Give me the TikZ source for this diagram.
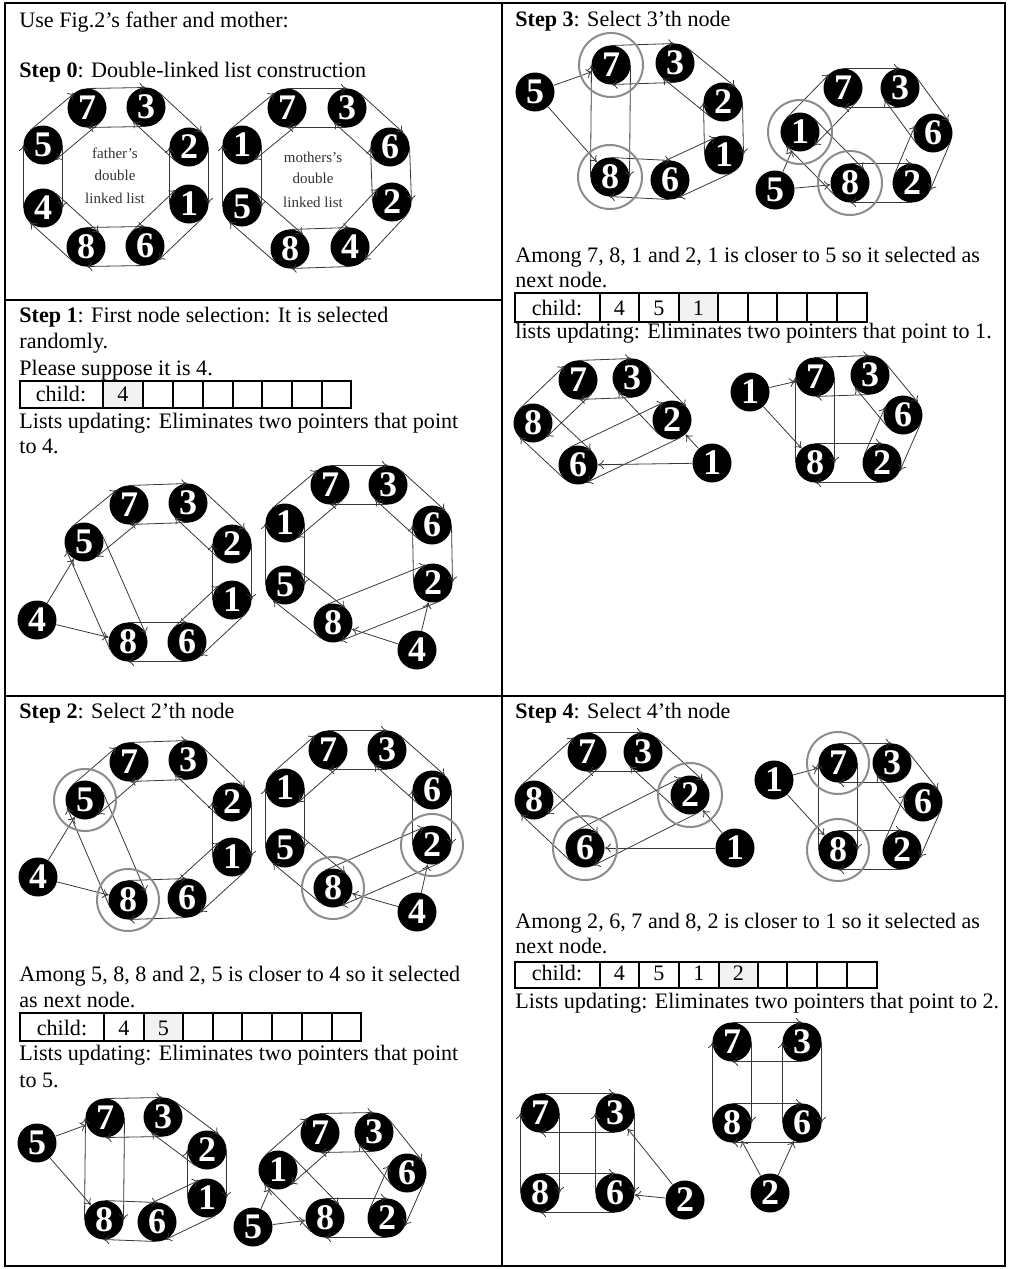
\documentclass[tikz,border=0pt]{standalone}
\usepackage{fontspec}
\setmainfont{Liberation Serif}
\usetikzlibrary{arrows.meta, calc}
\definecolor{cellgray}{RGB}{242,242,242}
\definecolor{ringgray}{RGB}{140,140,140}
\definecolor{linkgray}{RGB}{55,55,55}
\newcommand{\lnkoff}{9.75pt}
% two pointers between neighbours, each one keeps to its left
\newcommand{\dlink}[2]{%
  \draw[lnk] ($(#1)!\lnkoff!90:(#2)$) -- ($(#2)!\lnkoff!-90:(#1)$);
  \draw[lnk] ($(#2)!\lnkoff!90:(#1)$) -- ($(#1)!\lnkoff!-90:(#2)$);}

\begin{document}
\begin{tikzpicture}[x=0.5pt, y=-0.5pt,
  nd/.style={circle, fill=black, inner sep=0pt, minimum size=19.5pt, text=white,
    font=\fontsize{18}{18}\selectfont\bfseries},
  lnk/.style={draw=linkgray, line width=0.4pt, -{To[length=3pt,width=4.5pt]}},
  ring/.style={draw=ringgray, line width=1pt},
  txt/.style={anchor=base west, inner sep=0pt, font=\fontsize{11.05}{13}\selectfont},
  cell/.style={anchor=base, inner sep=0pt, font=\fontsize{11.05}{13}\selectfont},
  lbl/.style={inner sep=0pt, text=black!80, font=\fontsize{7.5}{9}\selectfont},
  tbl/.style={draw=black, line width=0.8pt},
  frame/.style={draw=black, line width=0.9pt}]
  \useasboundingbox (0,0) rectangle (1009,1269);

  % ---- Frame ----
  \draw[frame] (5,3) rectangle (1005,1266);
  \draw[frame] (502,3) -- (502,1266);
  \draw[frame] (5,300) -- (502,300);
  \draw[frame] (5,696) -- (1005,696);

  % ---- Step 0 ----
  \node[txt] (t0a) at (19,27) {Use Fig.2’s father and mother:};
  \node[txt] (t0b) at (19,77) {\textbf{Step 0}: Double-linked list construction};
  \foreach \n/\x/\y in {7/87/108, 3/146/107, 2/189/147, 1/189/204, 6/145/246, 8/86/247, 4/43/208, 5/43/145}
    \node[nd] (F0-\n) at (\x,\y) {\n};
  \foreach \a/\b in {7/3, 3/2, 2/1, 1/6, 6/8, 8/4, 4/5, 5/7} {\dlink{F0-\a}{F0-\b}}
  \node[lbl] (fl0a) at (115,153) {father's};
  \node[lbl] (fl0b) at (115,175) {double};
  \node[lbl] (fl0c) at (115,198) {linked list};
  \foreach \n/\x/\y in {7/287/108, 3/347/108, 6/390/147, 2/392/202, 4/350/247, 8/290/249, 5/242/207, 1/242/145}
    \node[nd] (M0-\n) at (\x,\y) {\n};
  \foreach \a/\b in {7/3, 3/6, 6/2, 2/4, 4/8, 8/5, 5/1, 1/7} {\dlink{M0-\a}{M0-\b}}
  \node[lbl] (ml0a) at (313,157) {mothers's};
  \node[lbl] (ml0b) at (313,178) {double};
  \node[lbl] (ml0c) at (313,202) {linked list};

  % ---- Step 1 ----
  \node[txt] (t1a) at (19,322) {\textbf{Step 1}: First node selection: It is selected};
  \node[txt] (t1b) at (19,348) {randomly.};
  \node[txt] (t1c) at (19,375) {Please suppose it is 4.};
  \fill[cellgray] (103,381) rectangle (143,408);
  \draw[tbl] (20,381) rectangle (351,408);
  \foreach \x in {103,143,173,203,233,262,292,322} \draw[tbl] (\x,381) -- (\x,408);
  \node[cell] (tb1) at (61,401) {child:};
  \node[cell] (tb1a) at (123,401) {4};
  \node[txt] (t1d) at (19,428) {Lists updating: Eliminates two pointers that point};
  \node[txt] (t1e) at (19,453) {to 4.};
  \foreach \n/\x/\y in {7/129/505, 3/188/503, 2/232/544, 1/232/600, 6/187/642, 8/128/642, 5/84/542, 4/37/620}
    \node[nd] (F1-\n) at (\x,\y) {\n};
  \foreach \a/\b in {7/3, 3/2, 2/1, 1/6, 6/8, 8/5, 5/7} {\dlink{F1-\a}{F1-\b}}
  \draw[lnk] (F1-4) -- (F1-5);
  \draw[lnk] (F1-4) -- (F1-8);
  \foreach \n/\x/\y in {7/330/485, 3/388/485, 6/432/525, 2/433/583, 4/417/650, 8/333/623, 5/285/585, 1/285/523}
    \node[nd] (M1-\n) at (\x,\y) {\n};
  \foreach \a/\b in {7/3, 3/6, 6/2, 2/8, 8/5, 5/1, 1/7} {\dlink{M1-\a}{M1-\b}}
  \draw[lnk] (M1-4) -- (M1-2);
  \draw[lnk] (M1-4) -- (M1-8);

  % ---- Step 2 ----
  \node[txt] (t2a) at (19,718) {\textbf{Step 2}: Select 2’th node};
  \foreach \n/\x/\y in {7/129/762, 3/188/760, 2/232/802, 1/232/857, 6/187/898, 8/128/900, 5/85/800, 4/38/877}
    \node[nd] (F2-\n) at (\x,\y) {\n};
  \foreach \a/\b in {7/3, 3/2, 2/1, 1/6, 6/8, 8/5, 5/7} {\dlink{F2-\a}{F2-\b}}
  \draw[lnk] (F2-4) -- (F2-5);
  \draw[lnk] (F2-4) -- (F2-8);
  \draw[ring] (F2-5) circle[radius=15.5pt];
  \draw[ring] (F2-8) circle[radius=15.5pt];
  \foreach \n/\x/\y in {7/328/750, 3/387/750, 6/432/790, 2/432/845, 4/417/912, 8/333/888, 5/285/848, 1/285/788}
    \node[nd] (M2-\n) at (\x,\y) {\n};
  \foreach \a/\b in {7/3, 3/6, 6/2, 2/8, 8/5, 5/1, 1/7} {\dlink{M2-\a}{M2-\b}}
  \draw[lnk] (M2-4) -- (M2-2);
  \draw[lnk] (M2-4) -- (M2-8);
  \draw[ring] (M2-8) circle[radius=15.5pt];
  \draw[ring] (M2-2) circle[radius=15.5pt];
  \node[txt] (t2b) at (19,981) {Among 5, 8, 8 and 2, 5 is closer to 4 so it selected};
  \node[txt] (t2c) at (19,1007) {as next node.};
  \fill[cellgray] (144,1013) rectangle (183,1041);
  \draw[tbl] (20,1013) rectangle (361,1041);
  \foreach \x in {104,144,183,213,242,272,302,332} \draw[tbl] (\x,1013) -- (\x,1041);
  \node[cell] (tb2) at (62,1035) {child:};
  \node[cell] (tb2a) at (124,1035) {4};
  \node[cell] (tb2b) at (163.5,1035) {5};
  \node[txt] (t2d) at (19,1060) {Lists updating: Eliminates two pointers that point};
  \node[txt] (t2e) at (19,1087) {to 5.};
  \foreach \n/\x/\y in {5/37/1143, 7/105/1118, 3/163/1117, 2/207/1150, 1/207/1198, 8/104/1220, 6/157/1222}
    \node[nd] (F2b-\n) at (\x,\y) {\n};
  \foreach \a/\b in {7/3, 3/2, 2/1, 1/6, 6/8, 8/7} {\dlink{F2b-\a}{F2b-\b}}
  \draw[lnk] (F2b-5) -- (F2b-7);
  \draw[lnk] (F2b-5) -- (F2b-8);
  \foreach \n/\x/\y in {7/320/1133, 3/374/1132, 1/278/1170, 6/407/1173, 5/253/1227, 8/325/1218, 2/387/1218}
    \node[nd] (M2b-\n) at (\x,\y) {\n};
  \foreach \a/\b in {7/3, 3/6, 6/2, 2/8, 8/1, 1/7} {\dlink{M2b-\a}{M2b-\b}}
  \draw[lnk] (M2b-5) -- (M2b-1);
  \draw[lnk] (M2b-5) -- (M2b-8);

  % ---- Step 3 ----
  \node[txt] (t3a) at (515,26) {\textbf{Step 3}: Select 3’th node};
  \foreach \n/\x/\y in {5/535/92, 7/611/65, 3/675/63, 2/723/102, 1/724/155, 6/670/180, 8/610/177}
    \node[nd] (F3-\n) at (\x,\y) {\n};
  \foreach \a/\b in {7/3, 3/2, 2/1, 1/6, 6/8, 8/7} {\dlink{F3-\a}{F3-\b}}
  \draw[lnk] (F3-5) -- (F3-7);
  \draw[lnk] (F3-5) -- (F3-8);
  \draw[ring] (F3-7) circle[radius=16pt];
  \draw[ring] (F3-8) circle[radius=16pt];
  \foreach \n/\x/\y in {7/843/88, 3/900/88, 6/933/133, 2/912/183, 8/850/183, 5/775/190, 1/800/132}
    \node[nd] (M3-\n) at (\x,\y) {\n};
  \foreach \a/\b in {7/3, 3/6, 6/2, 2/8, 8/1, 1/7} {\dlink{M3-\a}{M3-\b}}
  \draw[lnk] (M3-5) -- (M3-1);
  \draw[lnk] (M3-5) -- (M3-8);
  \draw[ring] (M3-1) circle[radius=16pt];
  \draw[ring] (M3-8) circle[radius=16pt];
  \node[txt] (t3b) at (515,262) {Among 7, 8, 1 and 2, 1 is closer to 5 so it selected as};
  \node[txt] (t3c) at (515,287) {next node.};
  \fill[cellgray] (679,293) rectangle (718,322);
  \draw[tbl] (515,293) rectangle (867,322);
  \foreach \x in {600,639,679,718,748,777,807,837} \draw[tbl] (\x,293) -- (\x,322);
  \node[cell] (tb3) at (557,315) {child:};
  \node[cell] (tb3a) at (619.5,315) {4};
  \node[cell] (tb3b) at (659,315) {5};
  \node[cell] (tb3c) at (698.5,315) {1};
  \node[txt] (t3d) at (515,338) {lists updating: Eliminates two pointers that point to 1.};
  \foreach \n/\x/\y in {7/578/380, 3/632/378, 2/672/420, 1/712/463, 6/578/465, 8/533/423}
    \node[nd] (F3b-\n) at (\x,\y) {\n};
  \foreach \a/\b in {7/3, 3/2, 2/6, 6/8, 8/7} {\dlink{F3b-\a}{F3b-\b}}
  \draw[lnk] (F3b-1) -- (F3b-2);
  \draw[lnk] (F3b-1) -- (F3b-6);
  \foreach \n/\x/\y in {1/750/392, 7/815/377, 3/870/375, 6/903/415, 2/882/463, 8/815/463}
    \node[nd] (M3b-\n) at (\x,\y) {\n};
  \foreach \a/\b in {7/3, 3/6, 6/2, 2/8, 8/7} {\dlink{M3b-\a}{M3b-\b}}
  \draw[lnk] (M3b-1) -- (M3b-7);
  \draw[lnk] (M3b-1) -- (M3b-8);

  % ---- Step 4 ----
  \node[txt] (t4a) at (515,718) {\textbf{Step 4}: Select 4’th node};
  \foreach \n/\x/\y in {7/587/752, 3/643/752, 2/690/795, 1/735/848, 6/585/848, 8/534/800}
    \node[nd] (F4-\n) at (\x,\y) {\n};
  \foreach \a/\b in {7/3, 3/2, 2/6, 6/8, 8/7} {\dlink{F4-\a}{F4-\b}}
  \draw[lnk] (F4-1) -- (F4-2);
  \draw[lnk] (F4-1) -- (F4-6);
  \draw[ring] (F4-2) circle[radius=16pt];
  \draw[ring] (F4-6) circle[radius=16pt];
  \foreach \n/\x/\y in {1/774/780, 7/838/763, 3/892/763, 6/923/802, 2/902/850, 8/838/850}
    \node[nd] (M4-\n) at (\x,\y) {\n};
  \foreach \a/\b in {7/3, 3/6, 6/2, 2/8, 8/7} {\dlink{M4-\a}{M4-\b}}
  \draw[lnk] (M4-1) -- (M4-7);
  \draw[lnk] (M4-1) -- (M4-8);
  \draw[ring] (M4-7) circle[radius=15.5pt];
  \draw[ring] (M4-8) circle[radius=15.5pt];
  \node[txt] (t4b) at (515,928) {Among 2, 6, 7 and 8, 2 is closer to 1 so it selected as};
  \node[txt] (t4c) at (515,953) {next node.};
  \fill[cellgray] (719,962) rectangle (758,988);
  \draw[tbl] (515,962) rectangle (877,988);
  \foreach \x in {600,639,679,719,758,787,817,847} \draw[tbl] (\x,962) -- (\x,988);
  \node[cell] (tb4) at (557,980) {child:};
  \node[cell] (tb4a) at (619.5,980) {4};
  \node[cell] (tb4b) at (659,980) {5};
  \node[cell] (tb4c) at (699,980) {1};
  \node[cell] (tb4d) at (738.5,980) {2};
  \node[txt] (t4d) at (515,1008) {Lists updating: Eliminates two pointers that point to 2.};
  \foreach \n/\x/\y in {7/540/1113, 3/615/1113, 6/615/1193, 8/540/1193, 2/685/1200}
    \node[nd] (F4b-\n) at (\x,\y) {\n};
  \foreach \a/\b in {7/3, 3/6, 6/8, 8/7} {\dlink{F4b-\a}{F4b-\b}}
  \draw[lnk] (F4b-2) -- (F4b-3);
  \draw[lnk] (F4b-2) -- (F4b-6);
  \foreach \n/\x/\y in {7/732/1042, 3/802/1042, 6/802/1123, 8/732/1123, 2/770/1193}
    \node[nd] (M4b-\n) at (\x,\y) {\n};
  \foreach \a/\b in {7/3, 3/6, 6/8, 8/7} {\dlink{M4b-\a}{M4b-\b}}
  \draw[lnk] (M4b-2) -- (M4b-8);
  \draw[lnk] (M4b-2) -- (M4b-6);
\end{tikzpicture}
\end{document}
